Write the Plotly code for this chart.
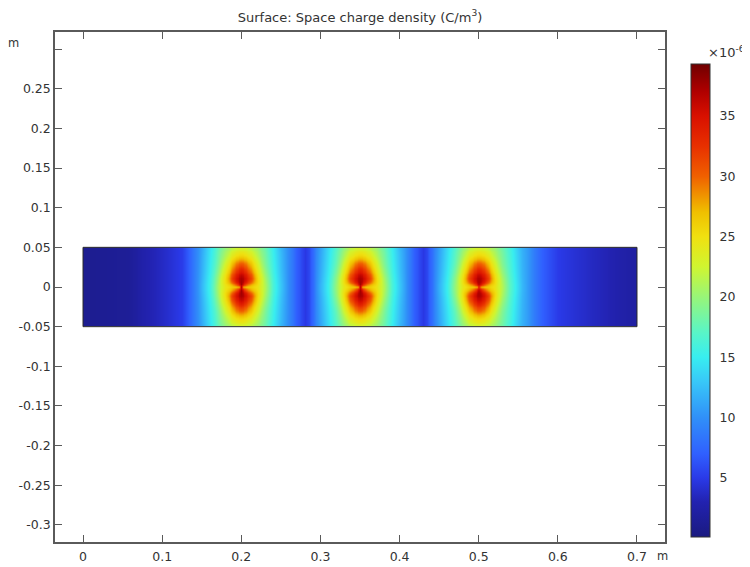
import plotly.graph_objects as go

# ---- values (x in m, y in m, density in 1e-6 C/m^3) ----
x_nodes = [0.005, 0.03, 0.062, 0.072, 0.09, 0.11, 0.125, 0.14,
           0.15, 0.16, 0.17, 0.18, 0.188, 0.194, 0.198, 0.2, 0.202, 0.206, 0.212, 0.22, 0.23, 0.24, 0.25,
           0.26, 0.27, 0.275, 0.28, 0.285, 0.29,
           0.3, 0.31, 0.32, 0.33, 0.338, 0.344, 0.348, 0.35, 0.352, 0.356, 0.362, 0.37, 0.38, 0.39, 0.4,
           0.41, 0.42, 0.425, 0.43, 0.435, 0.44,
           0.45, 0.46, 0.47, 0.48, 0.488, 0.494, 0.498, 0.5, 0.502, 0.506, 0.512, 0.52, 0.53, 0.54, 0.55,
           0.56, 0.58, 0.6, 0.62, 0.64, 0.66, 0.68, 0.695]
y_upper = [0.05, 0.04, 0.03, 0.022, 0.016, 0.011, 0.007, 0.003, 0.001, 0.0]

left_end = [1.1, 1.3, 1.5, 2.6, 3.3, 4.2, 5.2, 8.5]
gap_a = [9.5, 7.0, 5.8, 4.8, 5.8, 8.0]
gap_b = [9.5, 7.0, 5.8, 4.8, 5.8, 8.0]
right_end = [10.5, 7.0, 5.0, 4.3, 3.7, 3.2, 2.6, 2.2]

lobe_a = [
    [11.5, 14.5, 17.5, 20.0, 21.8, 22.6, 23.0, 23.0, 23.0, 22.6, 21.8, 20.3, 18.0, 15.0, 12.0],
    [11.7, 14.7, 17.9, 21.0, 23.8, 25.0, 25.5, 25.6, 25.5, 25.0, 23.8, 21.3, 18.4, 15.2, 12.2],
    [11.8, 14.9, 18.3, 22.5, 26.5, 28.8, 29.8, 30.0, 29.8, 28.8, 26.5, 22.8, 18.8, 15.4, 12.3],
    [11.9, 15.1, 19.0, 23.7, 28.5, 31.5, 33.0, 33.5, 33.0, 31.5, 28.5, 24.0, 19.5, 15.6, 12.4],
    [12.0, 15.3, 19.6, 24.7, 30.5, 33.8, 35.5, 36.0, 35.5, 33.8, 30.5, 25.0, 20.1, 15.8, 12.5],
    [12.1, 15.5, 20.1, 25.2, 31.5, 35.0, 36.8, 37.3, 36.8, 35.0, 31.5, 25.5, 20.6, 16.0, 12.6],
    [12.2, 15.6, 20.3, 25.2, 30.0, 34.0, 36.5, 37.5, 36.5, 34.0, 30.0, 25.5, 20.8, 16.1, 12.7],
    [12.3, 15.7, 20.5, 24.7, 27.5, 30.5, 34.5, 37.5, 34.5, 30.5, 27.5, 25.0, 21.0, 16.2, 12.8],
    [12.3, 15.7, 20.6, 24.5, 26.5, 28.0, 30.0, 35.0, 30.0, 28.0, 26.5, 24.8, 21.1, 16.2, 12.8],
    [12.3, 15.7, 20.6, 24.4, 26.0, 26.5, 27.5, 38.5, 27.5, 26.5, 26.0, 24.7, 21.1, 16.2, 12.8],
]
lobe_b = [
    [11.0, 14.0, 17.0, 19.8, 21.8, 22.6, 23.0, 23.0, 23.0, 22.6, 21.8, 20.3, 18.0, 15.0, 12.0],
    [11.2, 14.2, 17.4, 20.8, 23.8, 25.0, 25.5, 25.6, 25.5, 25.0, 23.8, 21.3, 18.4, 15.2, 12.2],
    [11.3, 14.4, 17.8, 22.3, 26.5, 28.8, 29.8, 30.0, 29.8, 28.8, 26.5, 22.8, 18.8, 15.4, 12.3],
    [11.4, 14.6, 18.5, 23.5, 28.5, 31.5, 33.0, 33.5, 33.0, 31.5, 28.5, 24.0, 19.5, 15.6, 12.4],
    [11.5, 14.8, 19.1, 24.5, 30.5, 33.8, 35.5, 36.0, 35.5, 33.8, 30.5, 25.0, 20.1, 15.8, 12.5],
    [11.6, 15.0, 19.6, 25.0, 31.5, 35.0, 36.8, 37.3, 36.8, 35.0, 31.5, 25.5, 20.6, 16.0, 12.6],
    [11.7, 15.1, 19.8, 25.0, 30.0, 34.0, 36.5, 37.5, 36.5, 34.0, 30.0, 25.5, 20.8, 16.1, 12.7],
    [11.8, 15.2, 20.0, 24.5, 27.5, 30.5, 34.5, 37.5, 34.5, 30.5, 27.5, 25.0, 21.0, 16.2, 12.8],
    [11.8, 15.2, 20.1, 24.3, 26.5, 28.0, 30.0, 35.0, 30.0, 28.0, 26.5, 24.8, 21.1, 16.2, 12.8],
    [11.8, 15.2, 20.1, 24.2, 26.0, 26.5, 27.5, 38.5, 27.5, 26.5, 26.0, 24.7, 21.1, 16.2, 12.8],
]
lobe_c = [
    [11.0, 14.0, 17.0, 19.8, 21.8, 22.6, 23.0, 23.0, 23.0, 22.6, 21.8, 20.3, 18.2, 15.8, 13.0],
    [11.2, 14.2, 17.4, 20.8, 23.8, 25.0, 25.5, 25.6, 25.5, 25.0, 23.8, 21.3, 18.6, 16.0, 13.2],
    [11.3, 14.4, 17.8, 22.3, 26.5, 28.8, 29.8, 30.0, 29.8, 28.8, 26.5, 22.8, 19.0, 16.2, 13.3],
    [11.4, 14.6, 18.5, 23.5, 28.5, 31.5, 33.0, 33.5, 33.0, 31.5, 28.5, 24.0, 19.7, 16.4, 13.4],
    [11.5, 14.8, 19.1, 24.5, 30.5, 33.8, 35.5, 36.0, 35.5, 33.8, 30.5, 25.0, 20.3, 16.6, 13.5],
    [11.6, 15.0, 19.6, 25.0, 31.5, 35.0, 36.8, 37.3, 36.8, 35.0, 31.5, 25.5, 20.8, 16.8, 13.6],
    [11.7, 15.1, 19.8, 25.0, 30.0, 34.0, 36.5, 37.5, 36.5, 34.0, 30.0, 25.5, 21.0, 16.9, 13.7],
    [11.8, 15.2, 20.0, 24.5, 27.5, 30.5, 34.5, 37.5, 34.5, 30.5, 27.5, 25.0, 21.2, 17.0, 13.8],
    [11.8, 15.2, 20.1, 24.3, 26.5, 28.0, 30.0, 35.0, 30.0, 28.0, 26.5, 24.8, 21.3, 17.0, 13.8],
    [11.8, 15.2, 20.1, 24.2, 26.0, 26.5, 27.5, 38.5, 27.5, 26.5, 26.0, 24.7, 21.3, 17.0, 13.8],
]

x_ticks = [0, 0.1, 0.2, 0.3, 0.4, 0.5, 0.6, 0.7]
x_tick_text = ["0", "0.1", "0.2", "0.3", "0.4", "0.5", "0.6", "0.7"]
y_ticks = [-0.3, -0.25, -0.2, -0.15, -0.1, -0.05, 0, 0.05, 0.1, 0.15, 0.2, 0.25, 0.3]
y_tick_text = ["-0.3", "-0.25", "-0.2", "-0.15", "-0.1", "-0.05", "0", "0.05", "0.1", "0.15", "0.2", "0.25", ""]
bar_ticks = [5, 10, 15, 20, 25, 30, 35]
z_min, z_max = 0.1, 39.3

palette = [
    (0.1, "#1a1a80"), (3.0, "#2222b0"), (5.0, "#2a3ae8"), (7.0, "#3060ff"), (10.0, "#3090f8"),
    (13.0, "#38c8f8"), (15.0, "#38eef0"), (17.0, "#58f5c8"), (20.0, "#98f578"), (22.5, "#d0f530"),
    (25.0, "#f0e010"), (27.0, "#f0c000"), (30.0, "#f06000"), (32.5, "#e83000"), (35.0, "#d81000"),
    (37.0, "#b00000"), (39.3, "#700000"),
]

# ---- assemble the grid ----
rows = [left_end + lobe_a[i] + gap_a + lobe_b[i] + gap_b + lobe_c[i] + right_end for i in range(len(y_upper))]
z_rows = rows[:-1] + [rows[-1]] + rows[-2::-1]           # picture is mirror-symmetric about y = 0
y_nodes = y_upper[:-1] + [0.0] + [-v for v in y_upper[-2::-1]]


def edges(nodes, first, last):
    mids = [(a + b) / 2 for a, b in zip(nodes[:-1], nodes[1:])]
    return [first] + mids + [last]


x_edges = edges(x_nodes, 0.0, 0.7)
y_edges = edges(y_nodes, 0.05, -0.05)

PAGE = 8  # the browser's default body margin shifts the figure by this much
W, H = 750 - PAGE, 567 - PAGE
L, R, T, B = 55 - PAGE, 665 - PAGE, 32 - PAGE, 542 - PAGE
x_range = [-0.0354, 0.7354]
y_range = [-0.3215, 0.3215]
INK = "#333333"
FRAME = "#5a5a5a"
FONT = "DejaVu Sans"
bar_top, bar_bottom, bar_left, bar_w = 64 - PAGE, 537 - PAGE, 691 - PAGE, 19


def px(p):
    return (p - L) / (R - L)


def py(p):
    return (B - p) / (B - T)


fig = go.Figure()
fig.add_trace(go.Heatmap(
    x=x_edges, y=y_edges, z=z_rows, zsmooth="best", zmin=z_min, zmax=z_max,
    colorscale=[[(v - z_min) / (z_max - z_min), c] for v, c in palette],
    hoverinfo="skip",
    colorbar=dict(
        x=px(bar_left), y=py(bar_top),
        xanchor="left", yanchor="top", xpad=0, ypad=0,
        lenmode="pixels", len=bar_bottom - bar_top, thicknessmode="pixels", thickness=bar_w,
        tickmode="array", tickvals=bar_ticks, ticktext=[str(v) for v in bar_ticks],
        ticks="outside", ticklen=7, tickcolor="rgba(0,0,0,0)", tickwidth=1,
        outlinecolor=INK, outlinewidth=1,
        tickfont=dict(family=FONT, size=12.5, color=INK),
    ),
))

axis_common = dict(showgrid=False, zeroline=False, ticks="inside", ticklen=7, tickwidth=1, tickcolor=FRAME,
                   showline=True, linecolor=FRAME, linewidth=1.5, mirror="allticks",
                   tickfont=dict(family=FONT, size=12.5, color=INK), tickmode="array")

shapes = [dict(type="rect", xref="x", yref="y", x0=0, x1=0.7, y0=-0.05, y1=0.05,
               line=dict(color="#2a2a2a", width=1), layer="above")]
for v in bar_ticks:
    tick_y = bar_top + (z_max - v) / (z_max - z_min) * (bar_bottom - bar_top)
    for a, b in ((bar_left, bar_left + 3), (bar_left + bar_w - 3, bar_left + bar_w)):
        shapes.append(dict(type="line", xref="paper", yref="paper", x0=px(a), x1=px(b),
                           y0=py(tick_y), y1=py(tick_y), line=dict(color=INK, width=1)))

fig.update_layout(
    width=W, height=H, autosize=False, paper_bgcolor="white", plot_bgcolor="white",
    margin=dict(l=L, r=W - R, t=T, b=H - B, pad=0, autoexpand=False),
    font=dict(family=FONT, size=12.5, color=INK),
    title=dict(text="Surface: Space charge density (C/m<sup>3</sup>)", x=(L + R) / 2 / W, xanchor="center",
               y=1 - (17 - PAGE) / H, yanchor="middle", font=dict(family=FONT, size=13, color=INK)),
    xaxis=dict(range=x_range, tickvals=x_ticks, ticktext=x_tick_text, ticklabelstandoff=2, **axis_common),
    yaxis=dict(range=y_range, tickvals=y_ticks, ticktext=y_tick_text, **axis_common),
    shapes=shapes,
    annotations=[
        dict(text="m", xref="paper", yref="paper", x=px(13 - PAGE), y=py(43 - PAGE),
             showarrow=False, xanchor="center", yanchor="middle", font=dict(family=FONT, size=11.5, color=INK)),
        dict(text="m", xref="paper", yref="paper", x=px(662 - PAGE), y=py(556 - PAGE),
             showarrow=False, xanchor="center", yanchor="middle", font=dict(family=FONT, size=11.5, color=INK)),
        dict(text="×10<sup>-6</sup>", xref="paper", yref="paper", x=px(747 - PAGE), y=py(52 - PAGE),
             showarrow=False, xanchor="right", yanchor="middle", font=dict(family=FONT, size=13, color=INK)),
    ],
)
fig.write_html("out.html")
